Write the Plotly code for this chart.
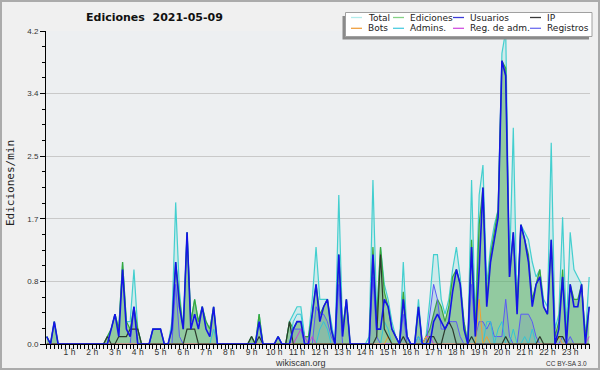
import plotly.graph_objects as go

# ---- data: edits per minute, one value per 10-minute slot (144 slots) ----
TOTAL = [
    0.1,0,0.3,0,0,0, 0,0,0,0,0,0,
    0,0,0,0,0.1,0.2, 0.4,0.2,1.1,0.3,0.3,1.0,
    0.2,0,0,0,0.2,0.2, 0.2,0,0,0.3,1.9,0.7,
    0.2,1.5,0.3,0.6,0.3,0.5, 0.3,0.2,0.5,0,0,0,
    0,0,0,0,0,0, 0.1,0,0.4,0,0,0,
    0,0.1,0,0,0.3,0.4, 0.5,0.5,0.1,0.1,0.6,1.3,
    0.6,0.6,0.6,0.3,0,2.0, 0.2,0.6,0,0,0,0,
    0,0.1,2.2,0.4,1.3,0.8, 0.6,0.3,0.1,0,1.1,0.1,
    0,0,0.6,0,0.1,0.6, 1.2,1.2,0.6,0.4,0.6,1.0,
    1.3,0.9,0.3,0,2.2,0.3, 2.0,2.4,0.8,1.3,1.6,1.8,
    3.9,4.2,1.0,2.9,0.5,1.6, 1.5,1.4,1.1,0.9,1.0,0.6,
    0.5,2.7,0.2,0.4,1.7,0.2, 1.5,1.0,0.9,0.8,0.1,0.9,
]
EDICIONES = [
    0.1,0,0.3,0,0,0, 0,0,0,0,0,0,
    0,0,0,0,0.1,0.2, 0.4,0.2,1.1,0.3,0.2,0.5,
    0.2,0,0,0,0.2,0.2, 0.2,0,0,0.2,1.1,0.6,
    0.2,1.5,0.3,0.6,0.3,0.5, 0.3,0.2,0.5,0,0,0,
    0,0,0,0,0,0, 0.1,0,0.4,0,0,0,
    0,0.1,0,0,0.3,0.2, 0.3,0.3,0.1,0.1,0.4,0.8,
    0.4,0.5,0.6,0.2,0,1.2, 0.2,0.6,0,0,0,0,
    0,0,1.3,0.3,1.3,0.7, 0.5,0.2,0.1,0,0.7,0.1,
    0,0,0.5,0,0.1,0.2, 0.4,0.6,0.5,0.3,0.5,0.9,
    1.0,0.8,0.3,0,1.4,0.2, 1.6,2.1,0.6,1.2,1.5,1.8,
    3.8,3.7,0.9,1.5,0.5,1.6, 1.4,1.2,0.6,0.8,1.0,0.5,
    0.4,1.4,0.1,0.3,1.0,0.1, 0.8,0.6,0.6,0.8,0.1,0.5,
]
USUARIOS = [
    0.1,0,0.3,0,0,0, 0,0,0,0,0,0,
    0,0,0,0,0,0.2, 0.4,0.1,1.0,0.2,0.1,0.5,
    0,0,0,0,0.2,0.2, 0.2,0,0,0.2,1.1,0.5,
    0.2,1.5,0.2,0.4,0.2,0.5, 0.2,0.1,0.5,0,0,0,
    0,0,0,0,0,0, 0,0,0.3,0,0,0,
    0,0.1,0,0,0,0.2, 0.3,0.3,0,0,0.4,0.8,
    0.3,0.5,0.6,0.2,0,1.2, 0.1,0.6,0,0,0,0,
    0,0,1.2,0.2,0.2,0.6, 0.5,0.2,0.1,0,0.6,0.1,
    0,0,0.5,0,0,0, 0.3,0.4,0.3,0.2,0.3,0.7,
    1.0,0.8,0.2,0,1.3,0.1, 1.0,2.1,0.5,1.1,1.4,1.7,
    3.8,3.6,0.9,1.5,0.4,1.6, 1.4,1.1,0.5,0.8,0.9,0.5,
    0.4,1.4,0,0.2,0.9,0, 0.8,0.5,0.5,0.8,0,0.5,
]
IP = [
    0,0,0,0,0,0, 0,0,0,0,0,0,
    0,0,0,0,0.1,0, 0,0.1,0.1,0.1,0.2,0.2,
    0.2,0,0,0,0,0, 0,0,0,0,0,0,
    0,0.2,0.2,0.2,0,0, 0,0,0,0,0,0,
    0,0,0,0,0,0, 0.1,0,0.1,0,0,0,
    0,0,0,0,0.3,0, 0,0,0,0,0,0,
    0,0,0,0,0,0, 0,0,0,0,0,0,
    0,0,0,0.1,1.2,0.2, 0.1,0,0,0,0.1,0,
    0,0,0,0,0,0.1, 0.1,0,0,0.2,0.3,0.2,
    0,0,0,0,0.1,0, 0,0,0,0,0,0,
    0,0.1,0,0,0,0, 0,0,0,0,0.1,0,
    0,0,0,0.1,0.1,0, 0,0,0,0,0,0,
]
BOTS = [0] * 90 + [
    0.1,0,0,0,0,0,
    0,0,0,0,0.1,0, 0,0,0,0,0,0,
    0,0,0,0,0,0, 0.6,0,0.1,0,0,0,
    0,0,0,0,0,0, 0,0,0,0,0,0,
    0,0,0,0.1,0,0, 0,0,0,0,0,0,
]
ADMINS = [0] * 36 + [
    0,0,0,0,0,0, 0,0,0.2,0,0,0,
    0,0,0,0,0,0, 0,0,0.3,0,0,0,
    0,0,0,0,0,0.3, 0.4,0.4,0.1,0,0,0,
    0.2,0.3,0.2,0,0,0, 0,0,0,0,0,0,
    0,0,0,0,0,0.3, 0.2,0,0,0,0,0,
    0,0,0.1,0,0,0, 0,0,0,0,0,0,
    0,0,0,0,0.1,0, 0,0,0.3,0.3,0,0.2,
    0.3,0,0,0.2,0,0, 0.1,0,0.2,0,0,0,
    0,0,0,0,0,0, 0,0,0,0,0,0,
]
REG_ADM = [0] * 60 + [
    0,0,0,0,0,0, 0.1,0.2,0.1,0,0.1,0,
    0,0,0,0,0,0, 0,0,0,0,0,0,
    0,0,0,0,0,0, 0,0,0,0,0,0,
    0,0,0,0,0.1,0.1, 0,0,0,0,0,0,
    0,0,0,0,0,0, 0,0,0,0,0,0,
    0,0,0,0,0,0, 0,0,0,0,0,0,
    0,0,0,0,0,0, 0,0,0,0,0,0.1,
]
REGISTROS = [
    0,0,0,0,0,0, 0,0,0,0,0,0,
    0,0,0,0,0,0, 0,0,0,0,0,0.5,
    0,0,0,0,0,0, 0,0,0,0,0.8,0.1,
    0,0,0,0,0,0, 0,0,0,0,0,0,
    0,0,0,0,0,0, 0,0,0,0,0,0,
    0,0,0,0,0,0.2, 0.2,0.2,0,0,0,0.5,
    0.4,0.4,0.3,0.1,0,0.8, 0,0,0,0,0,0,
    0,0,0.9,0.1,0,0, 0,0,0,0,0.4,0,
    0,0,0.1,0,0,0.4, 0.8,0.6,0.2,0.2,0.3,0.3,
    0.3,0.1,0,0,0.8,0.1, 0.3,0.3,0.2,0.3,0.1,0.1,
    0.1,0.6,0.1,0,0,0.4, 0.4,0.4,0.3,0.1,0,0,
    0,0,0,0,0.1,0, 0.1,0,0,0,0,0,
]
HOUR_TICKS = list(range(1, 24))
HOUR_LABELS = [f"{h} h" for h in HOUR_TICKS]
Y_TICKS = [0, 0.84, 1.68, 2.52, 3.36, 4.2]
Y_LABELS = ["0.0", "0.8", "1.7", "2.5", "3.4", "4.2"]
LEGEND_ROWS = [["Total", "Ediciones", "Usuarios", "IP"],
               ["Bots", "Admins.", "Reg. de adm.", "Registros"]]

x = [i / 6 for i in range(len(TOTAL))]

W, H = 600, 370
ML, MR, MT, MB = 46, 10, 31, 26
PW, PH = W - ML - MR, H - MT - MB


def px(p):
    return (p - ML) / PW


def py(p):
    return (H - MB - p) / PH


fig = go.Figure()

fig.add_trace(go.Scatter(x=x, y=TOTAL, name="Total", mode="lines",
                         line=dict(color="#43cfcf", width=1.2),
                         fill="tozeroy", fillcolor="rgba(70,210,210,0.18)"))
fig.add_trace(go.Scatter(x=x, y=EDICIONES, name="Ediciones", mode="lines",
                         line=dict(color="#3aa83a", width=1.2),
                         fill="tozeroy", fillcolor="rgba(85,170,85,0.5)"))
fig.add_trace(go.Scatter(x=x, y=REGISTROS, name="Registros", mode="lines",
                         line=dict(color="#5a5af5", width=1),
                         fill="tozeroy", fillcolor="rgba(70,70,230,0.10)"))
fig.add_trace(go.Scatter(x=x, y=ADMINS, name="Admins.", mode="lines",
                         line=dict(color="#33c4d6", width=1)))
fig.add_trace(go.Scatter(x=x, y=REG_ADM, name="Reg. de adm.", mode="lines",
                         line=dict(color="#c843d8", width=1)))
fig.add_trace(go.Scatter(x=x, y=BOTS, name="Bots", mode="lines",
                         line=dict(color="#f0a030", width=1)))
fig.add_trace(go.Scatter(x=x, y=IP, name="IP", mode="lines",
                         line=dict(color="#2c3a2c", width=1.2)))
fig.add_trace(go.Scatter(x=x, y=USUARIOS, name="Usuarios", mode="lines",
                         line=dict(color="#1414e6", width=1.6)))

fig.update_traces(showlegend=False, hoverinfo="skip")

tickfont = dict(family="Liberation Sans", size=8.5, color="#333333")
fig.update_xaxes(range=[-0.031, 23.87], tickmode="array", tickvals=HOUR_TICKS,
                 ticktext=HOUR_LABELS, ticks="outside", ticklen=4, tickcolor="#000",
                 showline=True, linecolor="#000", linewidth=1, showgrid=False,
                 zeroline=False, tickfont=tickfont, ticklabelstandoff=-4,
                 minor=dict(tick0=0, dtick=1 / 6, ticks="outside", ticklen=4,
                            tickcolor="#000", showgrid=False))
fig.update_yaxes(range=[0, 4.2], tickmode="array", tickvals=Y_TICKS, ticktext=Y_LABELS,
                 ticks="outside", ticklen=5, tickcolor="#000", showline=True,
                 linecolor="#000", linewidth=1, showgrid=True, gridcolor="#c9c9c9",
                 gridwidth=1, zeroline=False,
                 tickfont=dict(family="Liberation Sans", size=8, color="#333333"),
                 minor=dict(tick0=0, dtick=0.21, ticks="outside", ticklen=3,
                            tickcolor="#000", showgrid=False))

shapes = []
# outer frame
shapes.append(dict(type="rect", xref="paper", yref="paper", x0=px(1), x1=px(599),
                   y0=py(369), y1=py(1), line=dict(color="#ababab", width=2),
                   layer="above"))
# legend box with shadow
shapes.append(dict(type="rect", xref="paper", yref="paper", x0=px(342.5), x1=px(589),
                   y0=py(39.5), y1=py(16), line=dict(width=0), fillcolor="#8a8a8a",
                   layer="above"))
shapes.append(dict(type="rect", xref="paper", yref="paper", x0=px(345.5), x1=px(592),
                   y0=py(36.5), y1=py(12.5), line=dict(color="#a0a0a0", width=1),
                   fillcolor="#ffffff", layer="above"))

sample_colors = {"Total": "#b2ecec", "Ediciones": "#86d286", "Usuarios": "#3c3cd8",
                 "IP": "#3a3a3a", "Bots": "#f0a040", "Admins.": "#4ccce0",
                 "Reg. de adm.": "#d050e0", "Registros": "#6e6ef0"}
col_text_x = [366, 408, 468, 545]
row_y = [17.5, 28.3]

annotations = []
for r, row in enumerate(LEGEND_ROWS):
    for c, name in enumerate(row):
        tx = col_text_x[c]
        ty = row_y[r]
        shapes.append(dict(type="line", xref="paper", yref="paper",
                           x0=px(tx - 15), x1=px(tx - 4), y0=py(ty), y1=py(ty),
                           line=dict(color=sample_colors[name], width=1.3),
                           layer="above"))
        annotations.append(dict(text=name, xref="paper", yref="paper", x=px(tx), y=py(ty),
                                xanchor="left", yanchor="middle", showarrow=False,
                                font=dict(family="DejaVu Sans", size=9, color="#222222")))

annotations.append(dict(text="<b>Ediciones\u00a0\u00a02021-05-09</b>", xref="paper",
                        yref="paper", x=px(154), y=py(17), xanchor="center",
                        yanchor="middle", showarrow=False,
                        font=dict(family="DejaVu Sans", size=11, color="#111111")))
annotations.append(dict(text="Ediciones/min", xref="paper", yref="paper", x=px(10),
                        y=py(183), xanchor="center", yanchor="middle", textangle=-90,
                        showarrow=False,
                        font=dict(family="DejaVu Sans Mono", size=11, color="#222222")))
annotations.append(dict(text="wikiscan.org", xref="paper", yref="paper", x=px(300),
                        y=py(363), xanchor="center", yanchor="middle", showarrow=False,
                        font=dict(family="Liberation Sans", size=9, color="#333333")))
annotations.append(dict(text="CC BY-SA 3.0", xref="paper", yref="paper", x=px(589),
                        y=py(363), xanchor="right", yanchor="middle", showarrow=False,
                        font=dict(family="Liberation Sans", size=6.5, color="#333333")))

fig.update_layout(width=W, height=H, margin=dict(l=ML, r=MR, t=MT, b=MB, pad=0),
                  paper_bgcolor="#f0f0f0", plot_bgcolor="#edeff1",
                  shapes=shapes, annotations=annotations, showlegend=False)

fig.write_html("out.html", config={"displayModeBar": False},
               post_script="document.body.style.margin='0';document.body.style.overflow='hidden';")
